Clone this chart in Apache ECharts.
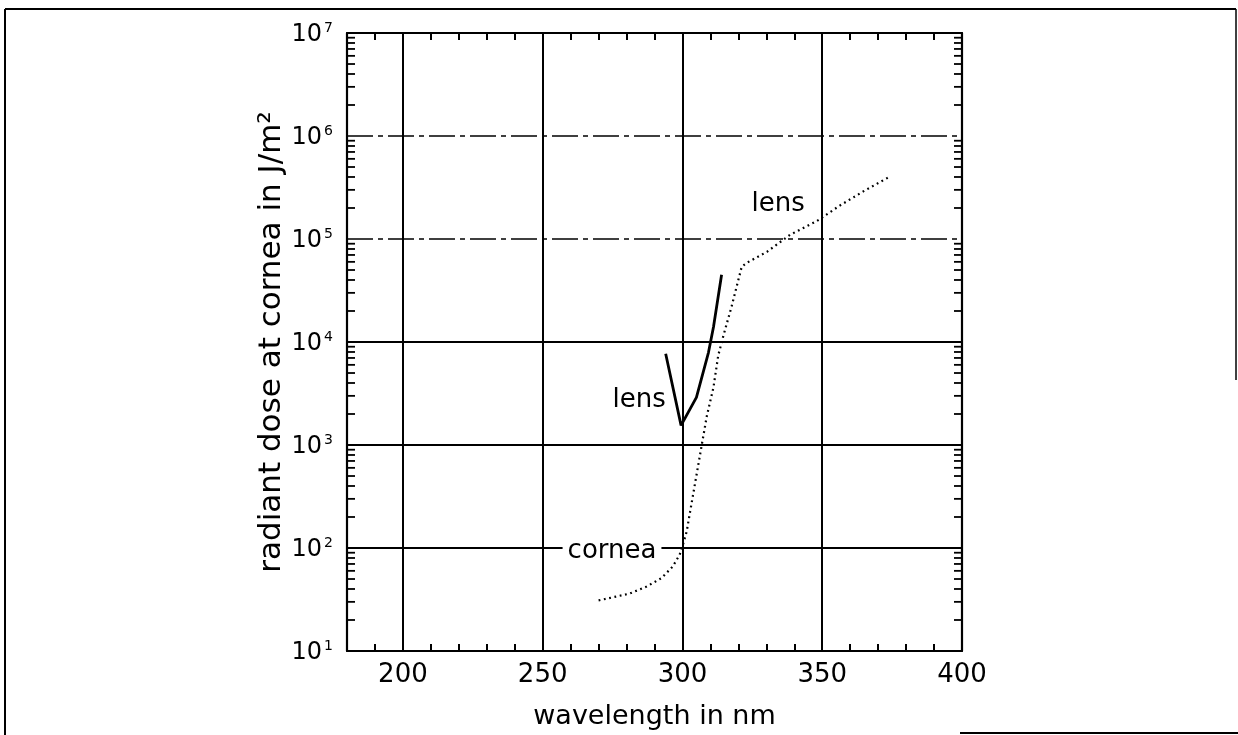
<!DOCTYPE html>
<html><head><meta charset="utf-8">
<script src="https://cdn.jsdelivr.net/npm/echarts@6/dist/echarts.min.js"></script>
<style>html,body{margin:0;padding:0;background:#fff}#c{width:1238px;height:735px}</style>
</head><body><div id="c"></div>
<script>
// ---- data ----
const corneaWavelength = [270,281,287,292.5,296.5,299,300.3,301.5,302.7,304.5,306.9,308.7,311.1,312.8,314.6,317.6,321.2,323,330.2,338.5,348,356.4,364.7,373.7];
const corneaDose = [31,36,42,51,66,86,111,144,222,423,1000,1900,3640,7400,11400,22200,53800,58700,75000,110000,149000,212000,290000,397000];
const lensWavelength = [294,299.5,305,309.3,311.1,314];
const lensDose = [7700,1550,2900,7900,14000,45000];
const xTickLabels = [200,250,300,350,400];
const xGridValues = [200,250,300,350];
const yGridDecades = [100,1000,10000,100000,1000000];
const yDashedDecades = [100000,1000000];
const labelTexts = ['lens','lens','cornea'];
const labelWavelength = [334.2,284.5,274.8];
const labelDose = [217000,2700,93];
const xMin = 180, xMax = 400, yMin = 10, yMax = 1e7;

const FONT = 'DejaVu Sans';
const minorY = [];
for (let d = 10; d < yMax; d *= 10) for (let m = 2; m <= 9; m++) minorY.push([xMin, d * m]);

const chart = echarts.init(document.getElementById('c'), null, {renderer:'canvas'});

const gridMarks = [];
xGridValues.forEach(v => gridMarks.push({xAxis: v}));
yGridDecades.forEach(v => {
  const item = {yAxis: v};
  if (yDashedDecades.includes(v)) item.lineStyle = {type:[26,5,5,5], width:1.5, color:'#000'};
  gridMarks.push(item);
});

const labelData = labelTexts.map((t, i) => {
  const it = {value:[labelWavelength[i], labelDose[i], t]};
  if (t === 'cornea') it.label = {backgroundColor:'#fff', padding:[0,5,0,5]};
  return it;
});

chart.setOption({
  animation:false,
  backgroundColor:'#fff',
  grid:{left:347, right:276, top:33, bottom:83, containLabel:false},
  xAxis:[{
    type:'value', position:'bottom', min:xMin, max:xMax, interval:10,
    name:'wavelength in nm', nameLocation:'middle', nameGap:52,
    nameTextStyle:{fontFamily:FONT, fontSize:27, color:'#000'},
    axisLine:{show:true, lineStyle:{color:'#000', width:2.2}},
    axisTick:{show:true, inside:true, length:7, lineStyle:{color:'#000', width:2}},
    axisLabel:{show:true, margin:11, fontFamily:FONT, fontSize:26, color:'#000',
      formatter: v => xTickLabels.includes(v) ? String(v) : ''},
    splitLine:{show:false}
  },{
    type:'value', position:'top', min:xMin, max:xMax, interval:10,
    axisLine:{show:true, lineStyle:{color:'#000', width:2.2}},
    axisTick:{show:true, inside:true, length:7, lineStyle:{color:'#000', width:2}},
    axisLabel:{show:false}, splitLine:{show:false}
  }],
  yAxis:[{
    type:'log', logBase:10, min:yMin, max:yMax, position:'left',
    name:'radiant dose at cornea in J/m²', nameLocation:'middle', nameGap:60,
    nameTextStyle:{fontFamily:FONT, fontSize:31, color:'#000'},
    axisLine:{show:true, lineStyle:{color:'#000', width:2.2}},
    axisTick:{show:false},
    axisLabel:{show:true, margin:14, color:'#000',
      formatter: v => '{b|10}{s|' + Math.round(Math.log10(v)) + '}',
      rich:{
        b:{fontFamily:FONT, fontSize:24, color:'#000', lineHeight:28, verticalAlign:'bottom'},
        s:{fontFamily:FONT, fontSize:14, color:'#000', lineHeight:16, verticalAlign:'top', padding:[2,0,0,2]}
      }},
    splitLine:{show:false}
  },{
    type:'log', logBase:10, min:yMin, max:yMax, position:'right',
    axisLine:{show:true, lineStyle:{color:'#000', width:2.2}},
    axisTick:{show:false}, axisLabel:{show:false}, splitLine:{show:false}
  }],
  graphic:[
    {type:'line', shape:{x1:5, y1:9, x2:5, y2:735}, style:{stroke:'#000', lineWidth:2}},
    {type:'line', shape:{x1:5, y1:9, x2:1236, y2:9}, style:{stroke:'#000', lineWidth:2}},
    {type:'line', shape:{x1:1236, y1:9, x2:1236, y2:380}, style:{stroke:'#000', lineWidth:1.5}},
    {type:'line', shape:{x1:960, y1:733, x2:1238, y2:733}, style:{stroke:'#000', lineWidth:2}}
  ],
  series:[
    {
      type:'custom', silent:true, xAxisIndex:0, yAxisIndex:0, data:minorY, z:3,
      renderItem:(params, api) => {
        const v = api.value(1);
        const pL = api.coord([xMin, v]);
        const pR = api.coord([xMax, v]);
        return {type:'group', children:[
          {type:'line', shape:{x1:pL[0], y1:pL[1], x2:pL[0]+8, y2:pL[1]}, style:{stroke:'#000', lineWidth:1.8}},
          {type:'line', shape:{x1:pR[0], y1:pR[1], x2:pR[0]-8, y2:pR[1]}, style:{stroke:'#000', lineWidth:1.8}}
        ]};
      }
    },
    {
      name:'cornea', type:'line', xAxisIndex:0, yAxisIndex:0, showSymbol:false, symbol:'none', z:4,
      data: corneaWavelength.map((w, i) => [w, corneaDose[i]]),
      lineStyle:{color:'#000', width:2.2, type:[1.8,3.6]},
      markLine:{silent:true, symbol:['none','none'], label:{show:false}, z:2,
        lineStyle:{color:'#000', width:2, type:'solid'}, data:gridMarks}
    },
    {
      name:'lens', type:'line', xAxisIndex:0, yAxisIndex:0, showSymbol:false, symbol:'none', z:5,
      data: lensWavelength.map((w, i) => [w, lensDose[i]]),
      lineStyle:{color:'#000', width:2.8, type:'solid'}
    },
    {
      type:'scatter', xAxisIndex:0, yAxisIndex:0, symbolSize:0, z:6, silent:true,
      itemStyle:{opacity:1},
      data: labelData,
      label:{show:true, position:'inside', formatter: p => p.value[2],
        fontFamily:FONT, fontSize:26, color:'#000', opacity:1, textBorderWidth:0}
    }
  ]
});
</script></body></html>
